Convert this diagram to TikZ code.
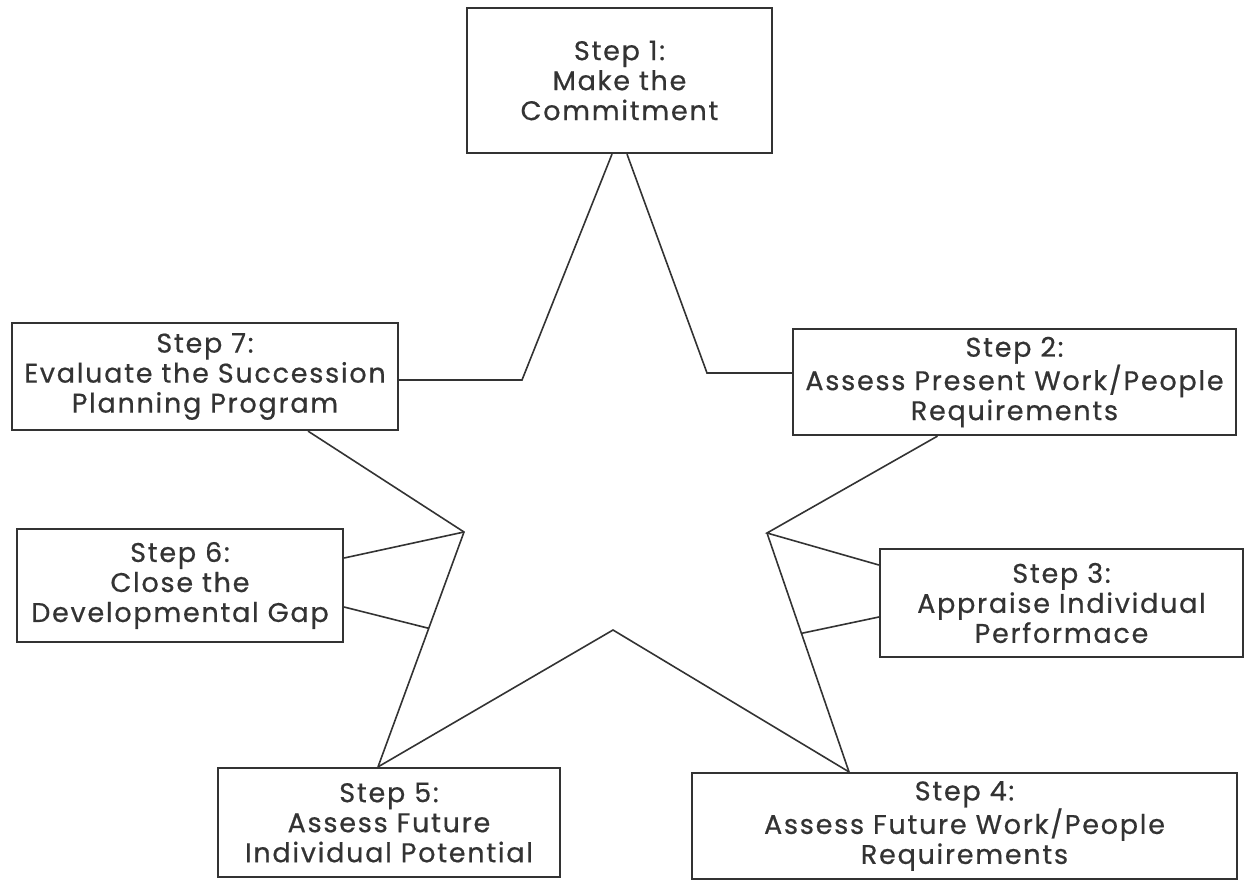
\documentclass[tikz,border=0pt]{standalone}
\usepackage{fontspec}
\setmainfont{Poppins}[LetterSpace=6.5, FakeBold=0.6]
\usepackage{tikz}
\usetikzlibrary{calc}
\definecolor{inkgray}{HTML}{333333}

\begin{document}
\begin{tikzpicture}[x=1pt, y=-1pt,
        stepbox/.style = {draw = inkgray, line width = 2.2pt, align = center,
            text = inkgray, inner sep = 0pt,
            font = \fontsize{27}{30}\selectfont}]
        \useasboundingbox (0,0) rectangle (1246,879);

        % the seven boxes
        \node[stepbox, minimum width = 305pt, minimum height = 145pt] (s1) at (619.5,80.5)
            {Step 1:\\Make the\\Commitment};
        \node[stepbox, minimum width = 443pt, minimum height = 106pt] (s2) at (1014.5,382)
            {Step 2:\\Assess Present Work/People\\Requirements};
        \node[stepbox, minimum width = 363pt, minimum height = 108pt] (s3) at (1061.5,603)
            {Step 3:\\Appraise Individual\\Performace};
        \node[stepbox, minimum width = 545pt, minimum height = 106pt] (s4) at (964.5,826)
            {Step 4:\\Assess Future Work/People\\Requirements};
        \node[stepbox, minimum width = 342pt, minimum height = 109pt] (s5) at (389,822.5)
            {Step 5:\\Assess Future\\Individual Potential};
        \node[stepbox, minimum width = 326pt, minimum height = 113pt] (s6) at (180,585.5)
            {Step 6:\\Close the\\Developmental Gap};
        \node[stepbox, minimum width = 386pt, minimum height = 107pt] (s7) at (205,376.5)
            {Step 7:\\Evaluate the Succession\\Planning Program};

        % inner corners of the star
        \coordinate (tl) at (522,380);
        \coordinate (tr) at (707,373);
        \coordinate (R) at (767,533);
        \coordinate (B) at (613,630);
        \coordinate (L) at (464,532);
        \coordinate (m3) at ($(R)!0.42!([xshift=-115.5pt]s4.north)$);
        \coordinate (m6) at ($(L)!0.41!([xshift=-11pt]s5.north)$);

        \begin{scope}[draw = inkgray, line width = 1.6pt, line join = miter]
            \draw ([xshift=-7.5pt]s1.south) -- (tl) -- (tl -| s7.east);
            \draw ([xshift=7.5pt]s1.south) -- (tr) -- (tr -| s2.west);
            \draw ([xshift=-77pt]s2.south) -- (R) -- ([yshift=38pt]s3.west);
            \draw (R) -- ([xshift=-115.5pt]s4.north);
                \draw (m3) -- ([yshift=-14pt]s3.west);
            \draw ([xshift=-115.5pt]s4.north) -- (B) -- ([xshift=-11pt]s5.north);
            \draw ([xshift=-11pt]s5.north) -- (L) -- ([xshift=103pt]s7.south);
                \draw (L) -- ([yshift=27.5pt]s6.east);
                \draw (m6) -- ([yshift=-21.5pt]s6.east);
        \end{scope}
    \end{tikzpicture}
\end{document}
